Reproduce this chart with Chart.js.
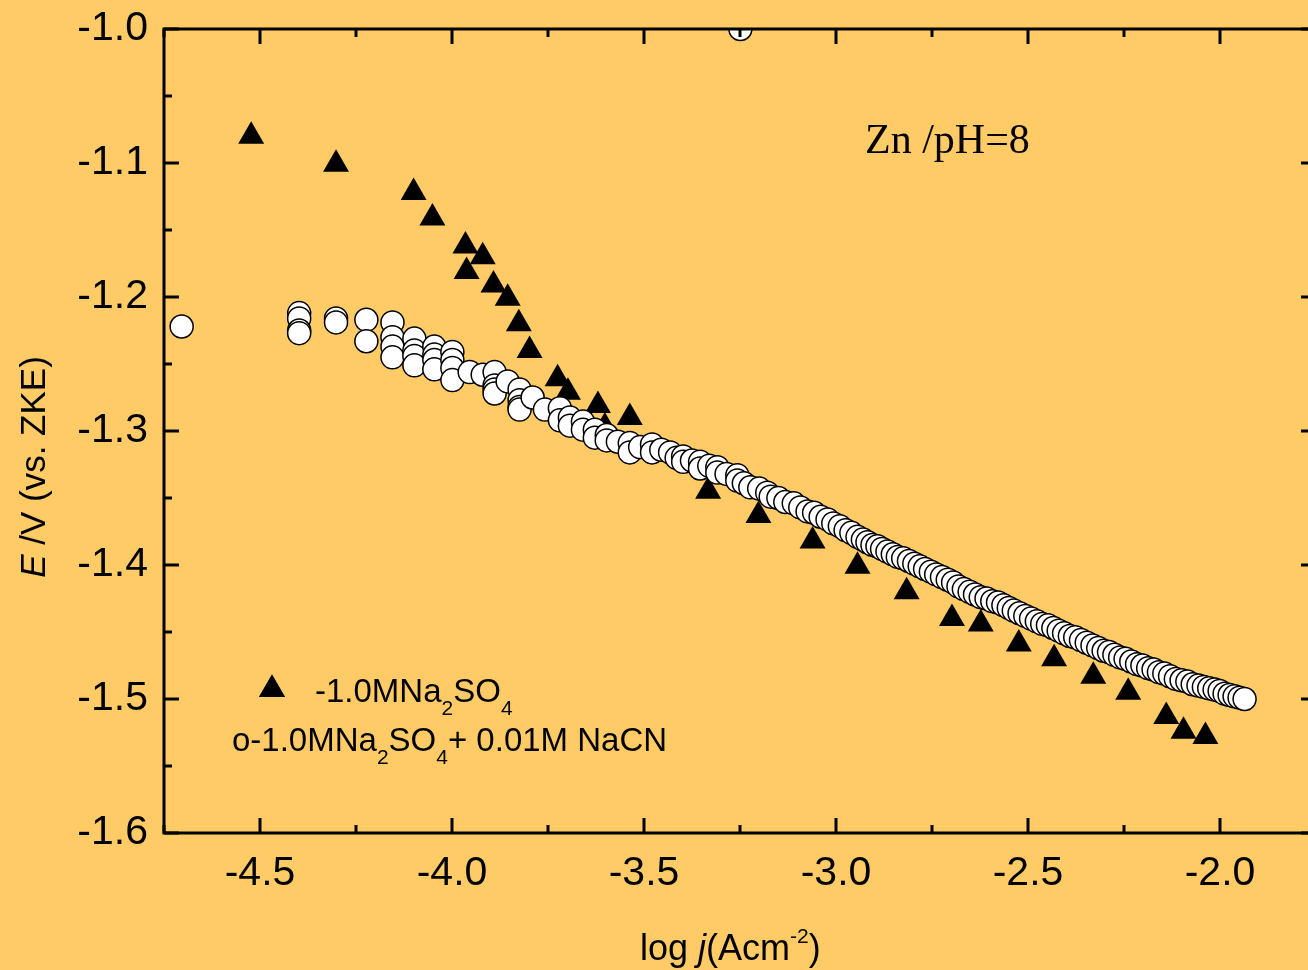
<!DOCTYPE html>
<html>
<head>
<meta charset="utf-8">
<script src="https://cdn.jsdelivr.net/npm/chart.js@4/dist/chart.umd.min.js"></script>
<style>
html,body{margin:0;padding:0;background:#FFCB66;overflow:hidden;width:1308px;height:970px;}
#wrap{position:relative;width:1308px;height:970px;overflow:hidden;}
canvas{display:block;}
</style>
</head>
<body>
<div id="wrap"><canvas id="c" width="1331" height="970" style="width:1331px;height:970px;"></canvas></div>
<script>
// ---- tick labels ----
const xTicks = [-4.5, -4.0, -3.5, -3.0, -2.5, -2.0];
const xMinorTicks = [-4.75, -4.25, -3.75, -3.25, -2.75, -2.25, -1.75];
const yTicks = [-1.0, -1.1, -1.2, -1.3, -1.4, -1.5, -1.6];
const yMinorTicks = [-1.05, -1.15, -1.25, -1.35, -1.45, -1.55];

// ---- series: 1.0 M Na2SO4 (triangles) ----
const na2so4LogJ = [-4.523, -4.302, -4.100, -4.051, -3.965, -3.920, -3.962, -3.892, -3.855, -3.826,
  -3.798, -3.725, -3.698, -3.620, -3.537, -3.602, -3.333, -3.202, -3.061, -2.944,
  -2.816, -2.698, -2.623, -2.524, -2.432, -2.330, -2.239, -2.140, -2.095, -2.038];
const na2so4E = [-1.080, -1.101, -1.122, -1.141, -1.162, -1.170, -1.181, -1.191, -1.201, -1.220,
  -1.240, -1.261, -1.271, -1.281, -1.290, -1.297, -1.345, -1.363, -1.382, -1.401,
  -1.420, -1.440, -1.444, -1.459, -1.470, -1.483, -1.495, -1.513, -1.524, -1.528];

// ---- series: 1.0 M Na2SO4 + 0.01 M NaCN (open circles) ----
const nacnLogJ = [-4.704,
  -4.398, -4.398, -4.398, -4.398,
  -4.302, -4.302,
  -4.223, -4.223,
  -4.155, -4.155, -4.155, -4.155,
  -4.098, -4.098, -4.098, -4.098,
  -4.046, -4.046, -4.046, -4.046,
  -3.999, -3.999, -3.999, -3.999,
  -3.954, -3.920,
  -3.889, -3.889, -3.889, -3.889,
  -3.855,
  -3.824, -3.824, -3.824, -3.824,
  -3.790, -3.758,
  -3.719, -3.719, -3.693, -3.693, -3.659, -3.659, -3.628, -3.628, -3.597, -3.597,
  -3.568, -3.537, -3.537, -3.510, -3.479, -3.479, -3.455, -3.432, -3.415, -3.398, -3.398,
  -3.375, -3.354, -3.354, -3.330, -3.309, -3.309, -3.285, -3.257, -3.257, -3.249,
  -3.240, -3.223, -3.200, -3.179, -3.170, -3.150,
  -3.132, -3.110, -3.093, -3.074, -3.057, -3.040, -3.022, -3.007, -2.990, -2.975, -2.960,
  -2.944, -2.930, -2.918, -2.905, -2.892, -2.880, -2.866, -2.852, -2.839, -2.825,
  -2.810, -2.796, -2.782, -2.768, -2.753, -2.739, -2.724, -2.709, -2.695, -2.681,
  -2.667, -2.652, -2.638, -2.623, -2.608, -2.593, -2.578, -2.564, -2.550, -2.537,
  -2.522, -2.507, -2.492, -2.477, -2.463, -2.448, -2.434, -2.420, -2.406, -2.391,
  -2.377, -2.362, -2.347, -2.332, -2.317, -2.303, -2.289, -2.275, -2.260, -2.246,
  -2.231, -2.216, -2.202, -2.187, -2.173, -2.159, -2.145, -2.130, -2.115, -2.100,
  -2.085, -2.071, -2.056, -2.042, -2.028, -2.014, -2.001, -1.988, -1.975, -1.962,
  -1.949, -1.936];
const nacnE = [-1.222,
  -1.212, -1.216, -1.225, -1.227,
  -1.216, -1.219,
  -1.217, -1.233,
  -1.219, -1.230, -1.237, -1.245,
  -1.231, -1.240, -1.244, -1.251,
  -1.237, -1.243, -1.247, -1.254,
  -1.241, -1.247, -1.253, -1.262,
  -1.256, -1.258,
  -1.256, -1.266, -1.269, -1.272,
  -1.263,
  -1.269, -1.277, -1.282, -1.284,
  -1.275, -1.284,
  -1.283, -1.292, -1.290, -1.296, -1.293, -1.299, -1.299, -1.305, -1.303, -1.307,
  -1.308, -1.309, -1.316, -1.312, -1.310, -1.316, -1.314, -1.316, -1.320, -1.319, -1.323,
  -1.322, -1.323, -1.328, -1.326, -1.327, -1.331, -1.332, -1.333, -1.337, -1.000,
  -1.339, -1.342, -1.343, -1.346, -1.349, -1.350,
  -1.353, -1.354, -1.357, -1.360, -1.361, -1.364, -1.366, -1.369, -1.371, -1.374, -1.376,
  -1.379, -1.381, -1.383, -1.385, -1.386, -1.388, -1.390, -1.392, -1.394, -1.395,
  -1.397, -1.399, -1.401, -1.403, -1.405, -1.407, -1.409, -1.411, -1.413, -1.416,
  -1.418, -1.420, -1.422, -1.424, -1.425, -1.427, -1.428, -1.430, -1.432, -1.434,
  -1.436, -1.438, -1.440, -1.442, -1.444, -1.445, -1.447, -1.449, -1.451, -1.453,
  -1.454, -1.456, -1.458, -1.460, -1.462, -1.464, -1.465, -1.467, -1.469, -1.470,
  -1.472, -1.474, -1.475, -1.477, -1.478, -1.480, -1.481, -1.483, -1.485, -1.486,
  -1.487, -1.489, -1.490, -1.491, -1.492, -1.493, -1.494, -1.496, -1.497, -1.498,
  -1.499, -1.500];

const toPts = (xs, ys) => xs.map((v, i) => ({x: v, y: ys[i]}));

const SANS = '"Liberation Sans", Arial, sans-serif';
const SERIF = '"Liberation Serif", "Times New Roman", serif';

function drawRich(ctx, segs, x, y, base) {
  let cx = x;
  for (const s of segs) {
    const size = s.size || base;
    ctx.font = (s.italic ? 'italic ' : '') + size + 'px ' + (s.family || SANS);
    ctx.fillText(s.t, cx, y + (s.dy || 0));
    cx += ctx.measureText(s.t).width;
  }
  return cx - x;
}
function richWidth(ctx, segs, base) {
  let w = 0;
  for (const s of segs) {
    const size = s.size || base;
    ctx.font = (s.italic ? 'italic ' : '') + size + 'px ' + (s.family || SANS);
    w += ctx.measureText(s.t).width;
  }
  return w;
}

const framePlugin = {
  id: 'frame',
  afterDatasetsDraw(chart) {
    const {ctx, chartArea: a, scales: {x, y}} = chart;
    ctx.save();
    ctx.strokeStyle = '#000';
    ctx.lineWidth = 3;
    ctx.lineCap = 'butt';
    const seg = (x1, y1, x2, y2) => { ctx.beginPath(); ctx.moveTo(x1, y1); ctx.lineTo(x2, y2); ctx.stroke(); };
    xTicks.forEach(v => { const p = x.getPixelForValue(v); seg(p, a.bottom, p, a.bottom - 15); seg(p, a.top, p, a.top + 15); });
    xMinorTicks.forEach(v => { const p = x.getPixelForValue(v); seg(p, a.bottom, p, a.bottom - 8); seg(p, a.top, p, a.top + 8); });
    yTicks.forEach(v => { const p = y.getPixelForValue(v); seg(a.left, p, a.left + 15, p); seg(a.right, p, a.right - 15, p); });
    yMinorTicks.forEach(v => { const p = y.getPixelForValue(v); seg(a.left, p, a.left + 8, p); seg(a.right, p, a.right - 8, p); });
    ctx.strokeRect(a.left, a.top, a.right - a.left, a.bottom - a.top);
    ctx.restore();
  }
};

const textPlugin = {
  id: 'texts',
  afterDraw(chart) {
    const ctx = chart.ctx;
    ctx.save();
    ctx.fillStyle = '#000';
    ctx.textBaseline = 'alphabetic';
    ctx.textAlign = 'left';

    // x-axis title
    drawRich(ctx, [
      {t: 'log '}, {t: 'j', italic: true}, {t: '(Acm'}, {t: '-2', size: 21, dy: -17}, {t: ')'}
    ], 640, 960, 36);

    // y-axis title (rotated)
    const ySegs = [{t: 'E', italic: true}, {t: ' /V (vs. ZKE)'}];
    const yw = richWidth(ctx, ySegs, 35);
    ctx.save();
    ctx.translate(45, 467);
    ctx.rotate(-Math.PI / 2);
    drawRich(ctx, ySegs, -yw / 2, 0, 35);
    ctx.restore();

    // annotation
    ctx.font = '42px ' + SERIF;
    ctx.fillText('Zn /pH=8', 865, 153);

    // legend
    Chart.helpers.drawPoint(ctx, {pointStyle: 'triangle', radius: 15, borderWidth: 0}, 272, 689.5);
    ctx.fillStyle = '#000';
    ctx.fill();
    drawRich(ctx, [
      {t: '-1.0MNa'}, {t: '2', size: 21, dy: 13}, {t: 'SO'}, {t: '4', size: 21, dy: 13}
    ], 315, 702, 33);
    drawRich(ctx, [
      {t: 'o-1.0MNa'}, {t: '2', size: 21, dy: 13}, {t: 'SO'}, {t: '4', size: 21, dy: 13}, {t: '+ 0.01M NaCN'}
    ], 232, 751, 33);
    ctx.restore();
  }
};

new Chart(document.getElementById('c'), {
  type: 'scatter',
  data: {
    datasets: [
      {
        label: '1.0MNa2SO4 + 0.01M NaCN',
        data: toPts(nacnLogJ, nacnE),
        pointStyle: 'circle',
        pointRadius: 11.5,
        pointHoverRadius: 11.5,
        pointBackgroundColor: '#ffffff',
        pointBorderColor: '#000000',
        pointBorderWidth: 1.5,
        clip: 0,
        showLine: false
      },
      {
        label: '1.0MNa2SO4',
        data: toPts(na2so4LogJ, na2so4E),
        pointStyle: 'triangle',
        pointRadius: 15,
        pointHoverRadius: 15,
        pointBackgroundColor: '#000000',
        pointBorderColor: '#000000',
        pointBorderWidth: 0,
        clip: 0,
        showLine: false
      }
    ]
  },
  options: {
    responsive: false,
    devicePixelRatio: 1,
    animation: false,
    events: [],
    layout: {padding: {left: 0, top: 29, right: 5, bottom: 0}},
    plugins: {legend: {display: false}, tooltip: {enabled: false}},
    scales: {
      x: {
        type: 'linear',
        min: -4.75, max: -1.75,
        afterBuildTicks: s => { s.ticks = xTicks.map(v => ({value: v})); },
        afterFit: s => { s.height = 137; s.paddingLeft = 0; s.paddingRight = 0; s.paddingTop = 0; s.paddingBottom = 0; },
        grid: {display: false, drawTicks: false},
        border: {display: false},
        ticks: {
          color: '#000', padding: 16, maxRotation: 0, autoSkip: false,
          font: {family: SANS, size: 41},
          callback: v => Number(v).toFixed(1)
        }
      },
      y: {
        type: 'linear',
        min: -1.6, max: -1.0,
        afterBuildTicks: s => { s.ticks = yTicks.map(v => ({value: v})); },
        afterFit: s => { s.width = 164; s.paddingLeft = 0; s.paddingRight = 0; s.paddingTop = 0; s.paddingBottom = 0; },
        grid: {display: false, drawTicks: false},
        border: {display: false},
        ticks: {
          color: '#000', padding: 16, autoSkip: false,
          font: {family: SANS, size: 41},
          callback: v => Number(v).toFixed(1)
        }
      }
    }
  },
  plugins: [framePlugin, textPlugin]
});
</script>
</body>
</html>
